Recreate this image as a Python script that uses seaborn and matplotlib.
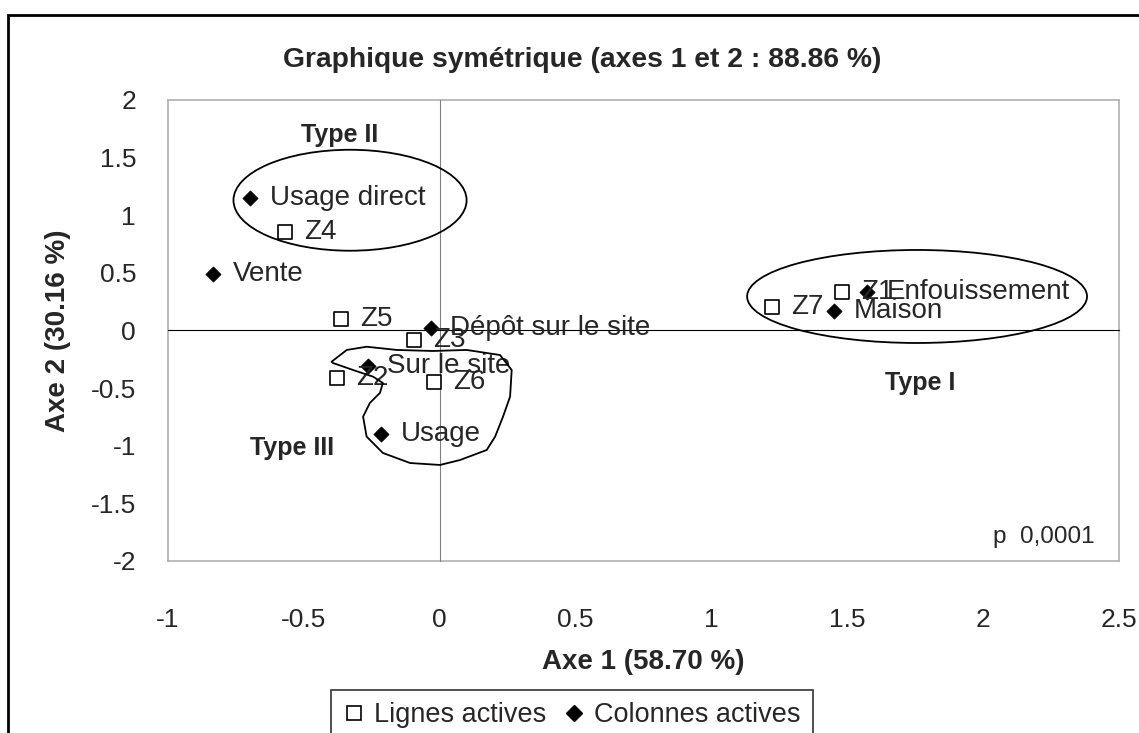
#!/usr/bin/env python3
# coding: utf-8

import pandas as pd
import seaborn as sns
import matplotlib.pyplot as plt
from matplotlib.patches import Ellipse, Polygon, Rectangle
from matplotlib.lines import Line2D

# ------------------------------------------------
# Data
# ------------------------------------------------
rows_names = ["Z1", "Z2", "Z3", "Z4", "Z5", "Z6", "Z7"]
rows_x = [1.48, -0.378, -0.095, -0.569, -0.363, -0.021, 1.223]
rows_y = [0.33, -0.41, -0.08, 0.855, 0.10, -0.45, 0.20]

cols_names = ["Enfouissement", "Maison", "Usage direct", "Vente",
              "Dépôt sur le site", "Sur le site", "Usage"]
cols_x = [1.573, 1.451, -0.698, -0.834, -0.032, -0.264, -0.216]
cols_y = [0.33, 0.17, 1.15, 0.49, 0.02, -0.31, -0.90]

type_names = ["Type I", "Type II", "Type III"]
type_x = [1.768, -0.367, -0.544]
type_y = [-0.455, 1.696, -1.02]

# hand drawn outline around "Sur le site" / "Usage"
blob_x = [-0.398, -0.342, -0.269, -0.158, -0.025, 0.099, 0.222, 0.265, 0.259,
          0.233, 0.204, 0.173, 0.075, 0.001, -0.109, -0.209, -0.269, -0.282,
          -0.257, -0.220, -0.209, -0.245, -0.319, -0.393]
blob_y = [-0.271, -0.169, -0.141, -0.169, -0.178, -0.169, -0.213, -0.343, -0.574,
          -0.748, -0.921, -1.037, -1.124, -1.167, -1.150, -1.063, -0.921, -0.748,
          -0.629, -0.542, -0.456, -0.401, -0.343, -0.282]

rows = pd.DataFrame({"x": rows_x, "y": rows_y, "name": rows_names})
cols = pd.DataFrame({"x": cols_x, "y": cols_y, "name": cols_names})

xticks = [-1, -0.5, 0, 0.5, 1, 1.5, 2, 2.5]
yticks = [-2, -1.5, -1, -0.5, 0, 0.5, 1, 1.5, 2]

# ------------------------------------------------
# Style
# ------------------------------------------------
sns.set_style("white")
plt.rcParams['font.family'] = ['Liberation Sans', 'DejaVu Sans']

fig = plt.figure(figsize=(11.39, 7.33), dpi=100)
pos = [0.1475, 0.2347, 0.8349, 0.6289]

# box + outer tick labels
ax_lab = fig.add_axes(pos)
ax_lab.set_xlim(-1, 2.5)
ax_lab.set_ylim(-2, 2)
ax_lab.set_xticks(xticks)
ax_lab.set_yticks(yticks)
ax_lab.set_xticklabels([f"{t:g}" for t in xticks])
ax_lab.set_yticklabels([f"{t:g}" for t in yticks])
ax_lab.tick_params(length=0, labelsize=19)
ax_lab.tick_params(axis='x', pad=34)
ax_lab.tick_params(axis='y', pad=23)
for s in ax_lab.spines.values():
    s.set_color('#b0b0b0')
    s.set_linewidth(1.2)
ax_lab.set_xlabel("Axe 1 (58.70 %)", fontsize=20, fontweight='bold', labelpad=12)
ax_lab.set_ylabel("Axe 2 (30.16 %)", fontsize=20, fontweight='bold', labelpad=14)
fig.text(582 / 1139, 1 - 60 / 733, "Graphique symétrique (axes 1 et 2 : 88.86 %)",
         ha='center', va='center', fontsize=20.3, fontweight='bold')

# axes crossing at the origin, data drawn here
ax = fig.add_axes(pos, sharex=ax_lab, sharey=ax_lab)
ax.patch.set_visible(False)
ax.spines['top'].set_visible(False)
ax.spines['right'].set_visible(False)
ax.spines['left'].set_position(('data', 0))
ax.spines['bottom'].set_position(('data', 0))
ax.spines['left'].set_color('#808080')
ax.spines['bottom'].set_color('black')
ax.tick_params(labelbottom=False, labelleft=False, direction='out', length=6)
ax.tick_params(axis='y', colors='#808080')
ax.tick_params(axis='x', colors='black')

sns.scatterplot(data=rows, x="x", y="y", marker='s', s=95, color='white',
                edgecolor='black', linewidth=1.2, ax=ax, zorder=4, legend=False)
sns.scatterplot(data=cols, x="x", y="y", marker='D', s=60, color='black',
                edgecolor='black', linewidth=0.5, ax=ax, zorder=4, legend=False)
ax.set_xlabel("")
ax.set_ylabel("")

for df in (rows, cols):
    for _, r in df.iterrows():
        ax.annotate(r["name"], (r["x"], r["y"]), xytext=(14, 0),
                    textcoords='offset points', va='center', ha='left',
                    fontsize=20, zorder=5)

for n, x, y in zip(type_names, type_x, type_y):
    ax.text(x, y, n, ha='center', va='center', fontsize=18, fontweight='bold')

ax.text(2.412, -1.79, "p  0,0001", ha='right', va='center', fontsize=17.5)

# hand drawn groupings
ax.add_patch(Ellipse((-0.33, 1.13), 0.858, 0.876, fill=False, lw=1.3,
                     edgecolor='black', zorder=6))
ax.add_patch(Ellipse((1.757, 0.295), 1.251, 0.807, fill=False, lw=1.3,
                     edgecolor='black', zorder=6))
ax.add_patch(Polygon(list(zip(blob_x, blob_y)), closed=True, fill=False,
                     lw=1.3, edgecolor='black', joinstyle='round', zorder=6))

# legend
handles = [Line2D([], [], ls='', marker='s', ms=10, mfc='white', mec='black',
                  mew=1.2, label="Lignes actives"),
           Line2D([], [], ls='', marker='D', ms=8, mfc='black', mec='black',
                  label="Colonnes actives")]
leg = fig.legend(handles=handles, loc='upper center',
                 bbox_to_anchor=(572 / 1139, 1 - 690 / 733),
                 bbox_transform=fig.transFigure, ncol=2, fontsize=19.5,
                 frameon=True, fancybox=False, edgecolor='black',
                 handlelength=0.8, handletextpad=0.35, columnspacing=0.6,
                 borderpad=0.45, borderaxespad=0)
leg.get_frame().set_linewidth(1.2)

# outer chart frame (cut at the right and bottom)
fig.patches.append(Rectangle((8 / 1139, -0.1), 1.2, 1.1 - 15 / 733, fill=False,
                             lw=2, edgecolor='black', transform=fig.transFigure,
                             figure=fig))

fig.savefig("out.png", dpi=100)
